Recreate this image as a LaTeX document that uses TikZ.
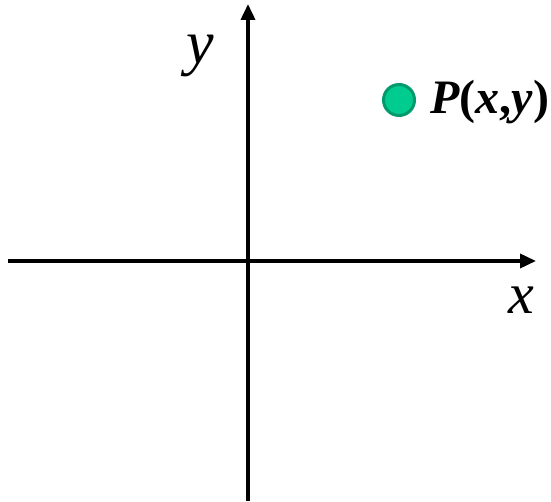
\documentclass[tikz,border=0pt]{standalone}
\usepackage{fontspec}
\setmainfont{Liberation Serif}
\usetikzlibrary{arrows.meta}
\definecolor{ptfill}{HTML}{00CC8F}
\definecolor{ptedge}{HTML}{009A6C}
\begin{document}
\begin{tikzpicture}[x=1pt,y=-1pt,
  axis/.style={line width=3.6pt,-{Triangle[length=16pt,width=14pt]}},
  lbl/.style={font=\fontsize{58}{60}\selectfont\itshape,inner sep=0pt},
  pt/.style={circle,fill=ptfill,draw=ptedge,line width=3pt,minimum size=31pt,inner sep=0pt}]
\useasboundingbox (0,0) rectangle (551,502);
\coordinate (xl) at (8,261);
\coordinate (xr) at (536,261);
\coordinate (yb) at (248,501);
\coordinate (yt) at (248,4);
\draw[axis] (xl) -- (xr);
\draw[axis] (yb) -- (yt);
\node[lbl,font=\fontsize{62}{64}\selectfont\itshape,anchor=base] (ylab) at (200,64) {y};
\node[lbl,anchor=base] (xlab) at (521,313) {x};
\node[pt] (P) at (399,100) {};
\node[anchor=base west,inner sep=0pt,font=\fontsize{48}{50}\selectfont\bfseries] (Plab) at (430,114) {\textit{P}(\textit{x},\textit{y})};
\end{tikzpicture}
\end{document}
